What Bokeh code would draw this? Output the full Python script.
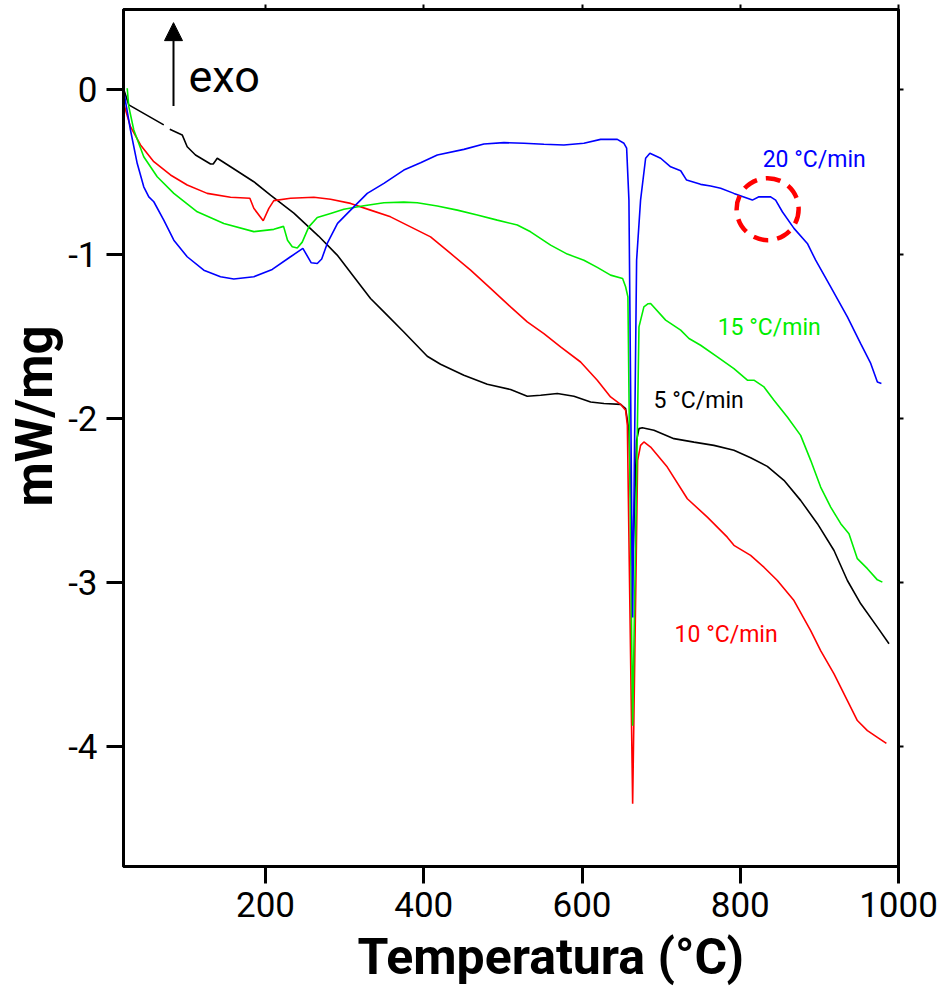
from bokeh.plotting import figure
from bokeh.models import Range1d, FixedTicker, LinearAxis, Label, Arrow, NormalHead, Title
from bokeh.embed import file_html
from bokeh.resources import INLINE

nan = float("nan")

# ---- data: temperature (°C) and heat flow (mW/mg) ----
t_5 = [21.7, 27.2, 71.4, nan, 79.0, 94.7, 101.0, 111.5, 130.5, 133.9, 139.0, 155.8, 185.2, 206.3,
       235.8, 267.0, 290.6, 311.6, 332.7, 349.6, 374.8, 404.4, 421.2, 450.7, 480.3, 509.7, 530.8,
       547.7, 568.8, 589.8, 610.9, 627.7, 648.8, 655.1, 659.3, 664.0, 669.0, 672.0, 676.2, 690.9,
       716.2, 741.5, 766.7, 792.0, 813.1, 834.2, 855.2, 876.3, 897.5, 918.5, 935.4, 952.3, 973.3, 988.0]
v_5 = [-0.01, -0.091, -0.213, nan, -0.24, -0.274, -0.346, -0.396, -0.451, -0.451, -0.416, -0.468,
       -0.559, -0.640, -0.750, -0.890, -1.006, -1.138, -1.270, -1.352, -1.474, -1.622, -1.671,
       -1.738, -1.793, -1.825, -1.866, -1.860, -1.849, -1.866, -1.901, -1.910, -1.915, -1.941,
       -2.073, -2.90, -2.134, -2.063, -2.057, -2.073, -2.124, -2.145, -2.165, -2.195, -2.240,
       -2.293, -2.378, -2.500, -2.642, -2.805, -2.988, -3.130, -3.272, -3.373]

t_10 = [20.9, 29.3, 42.0, 58.8, 79.9, 101.0, 126.3, 155.8, 180.2, 185.2, 197.1, 204.2, 210.5, 231.6,
        261.1, 282.2, 307.5, 332.7, 358.0, 383.3, 408.6, 433.9, 459.2, 484.4, 509.7, 530.8, 551.8,
        572.9, 598.2, 619.3, 636.1, 648.8, 655.1, 657.3, 664.0, 670.3, 674.0, 678.2, 686.7, 707.8,
        733.1, 758.4, 783.6, 792.0, 813.1, 829.9, 846.9, 867.9, 889.0, 901.6, 918.5, 935.4, 948.0,
        960.7, 973.3, 984.7]
v_10 = [-0.085, -0.224, -0.335, -0.437, -0.518, -0.579, -0.630, -0.654, -0.660, -0.721, -0.797,
        -0.721, -0.674, -0.660, -0.654, -0.666, -0.691, -0.732, -0.773, -0.834, -0.895, -0.996,
        -1.098, -1.209, -1.321, -1.413, -1.484, -1.565, -1.657, -1.768, -1.870, -1.915, -1.951,
        -2.043, -4.348, -2.256, -2.165, -2.144, -2.175, -2.297, -2.490, -2.602, -2.724, -2.774,
        -2.835, -2.907, -2.988, -3.110, -3.293, -3.415, -3.557, -3.720, -3.841, -3.902, -3.943, -3.980]

t_15 = [25.2, 27.2, 33.5, 46.1, 63.1, 84.1, 113.7, 147.3, 185.2, 210.5, 222.8, 227.8, 233.8, 240.1,
        246.4, 254.7, 265.4, 282.2, 299.0, 324.3, 349.6, 374.8, 391.8, 417.1, 442.4, 467.6, 492.9,
        518.2, 535.0, 560.3, 581.4, 602.4, 619.3, 636.1, 651.3, 655.1, 658.0, 664.0, 672.0, 678.2,
        683.6, 686.7, 705.7, 724.7, 735.2, 749.9, 771.0, 792.0, 809.0, 817.3, 830.0, 842.6, 859.5,
        876.3, 889.0, 901.6, 914.3, 927.0, 937.4, 948.0, 960.7, 973.3, 979.6]
v_15 = [0.010, -0.102, -0.244, -0.407, -0.529, -0.630, -0.742, -0.813, -0.863, -0.849, -0.831,
        -0.915, -0.955, -0.963, -0.927, -0.834, -0.777, -0.752, -0.727, -0.705, -0.687, -0.683,
        -0.687, -0.707, -0.732, -0.762, -0.793, -0.823, -0.864, -0.945, -1.000, -1.037, -1.081,
        -1.128, -1.148, -1.199, -1.260, -3.872, -1.443, -1.321, -1.302, -1.301, -1.402, -1.463,
        -1.514, -1.555, -1.626, -1.697, -1.768, -1.768, -1.809, -1.890, -1.992, -2.104, -2.256,
        -2.419, -2.541, -2.642, -2.703, -2.855, -2.916, -2.984, -2.998]

t_20 = [20.9, 29.3, 37.8, 46.1, 52.5, 58.8, 71.4, 84.1, 101.0, 122.0, 143.1, 159.9, 185.2, 208.5,
        231.6, 247.2, 257.8, 265.4, 271.0, 278.0, 291.0, 307.5, 328.6, 349.6, 374.8, 396.0, 417.1,
        450.7, 476.0, 501.3, 526.5, 551.8, 577.1, 602.4, 623.5, 644.6, 653.0, 656.4, 659.3, 664.0,
        669.0, 674.0, 680.4, 685.8, 699.4, 712.0, 724.7, 732.2, 749.9, 762.6, 775.2, 792.0, 809.0,
        815.3, 823.6, 838.4, 844.7, 853.2, 867.9, 884.8, 895.3, 914.3, 935.4, 952.2, 964.9, 973.3, 978.4]
v_20 = [-0.010, -0.244, -0.447, -0.590, -0.651, -0.681, -0.793, -0.915, -1.016, -1.098, -1.138,
        -1.152, -1.138, -1.093, -1.016, -0.965, -1.053, -1.057, -1.030, -0.935, -0.813, -0.732,
        -0.630, -0.569, -0.488, -0.443, -0.396, -0.362, -0.329, -0.321, -0.325, -0.331, -0.335,
        -0.325, -0.301, -0.301, -0.325, -0.355, -0.671, -3.213, -1.037, -0.671, -0.416, -0.386,
        -0.416, -0.468, -0.492, -0.549, -0.575, -0.585, -0.599, -0.630, -0.660, -0.671, -0.651,
        -0.651, -0.671, -0.742, -0.843, -0.935, -1.037, -1.199, -1.382, -1.545, -1.666, -1.779, -1.788]

series_colors = ["black", "#FF0000", "#00EE00", "#0000FF"]
rate_labels = ["5 \u00b0C/min", "10 \u00b0C/min", "15 \u00b0C/min", "20 \u00b0C/min"]
label_x = [690.5, 717.0, 771.4, 828.3]
label_y = [-1.893, -3.314, -1.448, -0.424]

x_ticks = [200, 400, 600, 800, 1000]
y_ticks = [0, -1, -2, -3, -4]
y_tick_text = ["0", "-1", "-2", "-3", "-4"]

circle_x = [834.6]
circle_y = [-0.726]

FONT = "Roboto"

p = figure(width=938, height=994, output_backend="svg", toolbar_location=None,
           x_range=Range1d(20.5, 1000), y_range=Range1d(-4.73, 0.49),
           min_border_left=123, min_border_right=40, min_border_top=9, min_border_bottom=128,
           background_fill_color="white", border_fill_color="white")
p.xgrid.visible = False
p.ygrid.visible = False
p.outline_line_color = "black"
p.outline_line_width = 3

for ax in (p.xaxis[0], p.yaxis[0]):
    ax.axis_line_width = 3
    ax.major_tick_line_width = 3
    ax.major_tick_out = 17
    ax.major_tick_in = 0
    ax.minor_tick_line_color = None
    ax.major_label_text_font = FONT
    ax.major_label_text_font_size = "35px"
    ax.major_label_text_color = "black"

p.xaxis[0].ticker = FixedTicker(ticks=x_ticks)
p.xaxis[0].major_label_standoff = 8
p.yaxis[0].ticker = FixedTicker(ticks=y_ticks)
p.yaxis[0].major_label_overrides = {t: s for t, s in zip(y_ticks, y_tick_text)}
p.yaxis[0].major_label_standoff = 9

# axis titles
x_title = Title(text="Temperatura (\u00b0C)", align="left", offset=234, text_font=FONT,
                text_font_style="bold", text_font_size="50px", text_color="black", standoff=12)
p.add_layout(x_title, "below")
y_title = Title(text="mW/mg", align="left", offset=360, text_font=FONT,
                text_font_style="bold", text_font_size="51px", text_color="black", standoff=4)
p.add_layout(y_title, "left")

# mirrored short ticks on top and right (no labels)
for side, ticks in (("above", x_ticks), ("right", y_ticks)):
    ax = LinearAxis(ticker=FixedTicker(ticks=ticks), axis_line_width=3,
                    major_tick_out=5, major_tick_in=0, major_tick_line_width=2,
                    minor_tick_line_color=None, major_label_text_color=None,
                    major_label_text_font_size="1px", major_label_standoff=0)
    p.add_layout(ax, side)

# curves
for t, v, c in ((t_5, v_5, series_colors[0]), (t_10, v_10, series_colors[1]),
                (t_15, v_15, series_colors[2]), (t_20, v_20, series_colors[3])):
    p.line(t, v, line_color=c, line_width=1.6)

# rate labels
for txt, lx, ly, c in zip(rate_labels, label_x, label_y, series_colors):
    p.add_layout(Label(x=lx, y=ly, text=txt, text_color=c, text_font=FONT,
                       text_font_size="23px", text_baseline="alphabetic", text_align="left"))

# dashed red circle
p.scatter(circle_x, circle_y, size=62, marker="circle", fill_color=None, line_color="#FF0000",
          line_width=4.5, line_dash="15 9")

# exo arrow
p.add_layout(Arrow(x_start=83.7, y_start=-0.098, x_end=83.7, y_end=0.41, line_width=2,
                   line_color="black",
                   end=NormalHead(size=18, fill_color="black", line_color="black")))
p.add_layout(Label(x=102.6, y=0.079, text="exo", text_font=FONT, text_font_size="45px",
                   text_color="black", text_baseline="alphabetic"))

open("out.html", "w").write(file_html(p, INLINE))
